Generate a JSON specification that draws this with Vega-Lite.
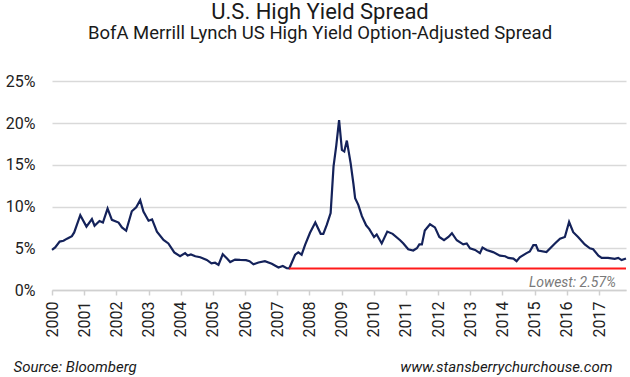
{
  "$schema": "https://vega.github.io/schema/vega-lite/v6.json",
  "width": 574,
  "height": 217,
  "autosize": {"type": "none"},
  "padding": {"left": 52, "top": 73, "right": 4, "bottom": 87},
  "background": "white",
  "title": {
    "text": "U.S. High Yield Spread",
    "subtitle": "BofA Merrill Lynch US High Yield Option-Adjusted Spread",
    "anchor": "middle",
    "dx": -19,
    "font": "Roboto",
    "fontSize": 22,
    "fontWeight": "normal",
    "color": "#1a1a1a",
    "subtitleFont": "Roboto",
    "subtitleFontSize": 18.5,
    "subtitleColor": "#1a1a1a",
    "subtitlePadding": 0,
    "offset": 30
  },
  "config": {
    "view": {"stroke": null},
    "axis": {"labelFont": "Roboto", "titleFont": "Roboto"}
  },
  "datasets": {
    "spread": [
      {"date": "2000-01-01", "value": 4.8},
      {"date": "2000-02-06", "value": 5.1},
      {"date": "2000-03-28", "value": 5.8},
      {"date": "2000-05-11", "value": 5.9},
      {"date": "2000-06-20", "value": 6.15},
      {"date": "2000-08-14", "value": 6.45},
      {"date": "2000-09-09", "value": 6.9},
      {"date": "2000-11-17", "value": 8.96},
      {"date": "2001-01-26", "value": 7.6},
      {"date": "2001-03-29", "value": 8.5},
      {"date": "2001-04-28", "value": 7.7},
      {"date": "2001-06-23", "value": 8.27},
      {"date": "2001-08-01", "value": 8.08},
      {"date": "2001-09-23", "value": 9.75},
      {"date": "2001-11-11", "value": 8.4},
      {"date": "2002-01-26", "value": 8.08},
      {"date": "2002-03-05", "value": 7.5},
      {"date": "2002-04-22", "value": 7.1},
      {"date": "2002-06-25", "value": 9.43},
      {"date": "2002-08-14", "value": 9.92},
      {"date": "2002-09-28", "value": 10.77},
      {"date": "2002-11-04", "value": 9.4},
      {"date": "2003-01-01", "value": 8.3},
      {"date": "2003-02-10", "value": 8.46},
      {"date": "2003-04-06", "value": 7.0},
      {"date": "2003-06-20", "value": 6.0},
      {"date": "2003-08-14", "value": 5.58},
      {"date": "2003-10-20", "value": 4.5},
      {"date": "2003-12-25", "value": 4.04},
      {"date": "2004-02-20", "value": 4.42},
      {"date": "2004-03-20", "value": 4.12},
      {"date": "2004-04-26", "value": 4.25},
      {"date": "2004-06-15", "value": 4.04},
      {"date": "2004-08-10", "value": 3.92},
      {"date": "2004-10-23", "value": 3.6},
      {"date": "2004-12-15", "value": 3.19},
      {"date": "2005-01-25", "value": 3.27},
      {"date": "2005-03-05", "value": 3.0},
      {"date": "2005-04-22", "value": 4.28},
      {"date": "2005-06-10", "value": 3.77},
      {"date": "2005-07-16", "value": 3.35},
      {"date": "2005-09-09", "value": 3.65},
      {"date": "2005-11-06", "value": 3.6},
      {"date": "2006-01-12", "value": 3.58},
      {"date": "2006-02-20", "value": 3.46},
      {"date": "2006-04-06", "value": 3.08},
      {"date": "2006-06-02", "value": 3.3},
      {"date": "2006-08-14", "value": 3.46},
      {"date": "2006-10-31", "value": 3.15},
      {"date": "2007-01-15", "value": 2.7},
      {"date": "2007-03-05", "value": 2.88},
      {"date": "2007-04-19", "value": 2.62},
      {"date": "2007-05-18", "value": 2.6},
      {"date": "2007-07-23", "value": 4.23},
      {"date": "2007-08-28", "value": 4.5},
      {"date": "2007-10-05", "value": 4.23},
      {"date": "2007-11-13", "value": 5.4},
      {"date": "2008-01-08", "value": 6.85},
      {"date": "2008-03-08", "value": 8.08},
      {"date": "2008-05-08", "value": 6.73},
      {"date": "2008-06-07", "value": 6.73},
      {"date": "2008-07-16", "value": 7.8},
      {"date": "2008-08-29", "value": 9.23},
      {"date": "2008-10-01", "value": 14.8},
      {"date": "2008-11-01", "value": 17.3},
      {"date": "2008-12-03", "value": 20.35},
      {"date": "2009-01-04", "value": 16.8},
      {"date": "2009-01-31", "value": 16.6},
      {"date": "2009-03-01", "value": 17.9},
      {"date": "2009-04-13", "value": 15.2},
      {"date": "2009-05-15", "value": 12.7},
      {"date": "2009-06-03", "value": 11.0},
      {"date": "2009-07-09", "value": 10.2},
      {"date": "2009-08-19", "value": 8.85},
      {"date": "2009-10-06", "value": 7.75},
      {"date": "2009-11-11", "value": 7.3},
      {"date": "2010-01-04", "value": 6.35},
      {"date": "2010-02-03", "value": 6.65},
      {"date": "2010-04-01", "value": 5.58},
      {"date": "2010-06-03", "value": 7.0},
      {"date": "2010-08-03", "value": 6.73},
      {"date": "2010-10-27", "value": 5.96},
      {"date": "2010-12-03", "value": 5.58},
      {"date": "2011-01-27", "value": 4.88},
      {"date": "2011-03-25", "value": 4.73},
      {"date": "2011-05-05", "value": 5.0},
      {"date": "2011-06-02", "value": 5.46},
      {"date": "2011-07-01", "value": 5.46},
      {"date": "2011-08-03", "value": 7.12},
      {"date": "2011-10-01", "value": 7.88},
      {"date": "2011-11-26", "value": 7.5},
      {"date": "2012-01-15", "value": 6.35},
      {"date": "2012-03-08", "value": 5.96},
      {"date": "2012-04-27", "value": 6.35},
      {"date": "2012-06-06", "value": 6.8},
      {"date": "2012-07-31", "value": 5.96},
      {"date": "2012-10-12", "value": 5.46},
      {"date": "2012-11-21", "value": 5.58},
      {"date": "2012-12-28", "value": 5.0},
      {"date": "2013-02-24", "value": 4.8},
      {"date": "2013-04-20", "value": 4.42},
      {"date": "2013-05-19", "value": 5.08},
      {"date": "2013-07-05", "value": 4.8},
      {"date": "2013-09-16", "value": 4.54},
      {"date": "2013-12-03", "value": 4.12},
      {"date": "2014-01-31", "value": 4.04},
      {"date": "2014-03-08", "value": 3.85},
      {"date": "2014-05-05", "value": 3.77},
      {"date": "2014-06-10", "value": 3.46},
      {"date": "2014-07-16", "value": 3.92},
      {"date": "2014-10-01", "value": 4.42},
      {"date": "2014-11-07", "value": 4.62},
      {"date": "2014-12-17", "value": 5.38},
      {"date": "2015-01-16", "value": 5.38},
      {"date": "2015-02-10", "value": 4.73},
      {"date": "2015-05-15", "value": 4.54},
      {"date": "2015-08-19", "value": 5.58},
      {"date": "2015-10-16", "value": 6.15},
      {"date": "2015-12-10", "value": 6.35},
      {"date": "2016-01-27", "value": 8.15},
      {"date": "2016-03-14", "value": 6.92},
      {"date": "2016-05-08", "value": 6.35},
      {"date": "2016-07-23", "value": 5.46},
      {"date": "2016-09-19", "value": 5.0},
      {"date": "2016-10-26", "value": 4.88},
      {"date": "2016-12-25", "value": 4.12},
      {"date": "2017-01-31", "value": 3.85},
      {"date": "2017-04-13", "value": 3.85},
      {"date": "2017-06-28", "value": 3.73},
      {"date": "2017-08-07", "value": 3.85},
      {"date": "2017-09-14", "value": 3.58},
      {"date": "2017-11-03", "value": 3.77}
    ],
    "lowest": [
      {"start": "2007-05-18", "end": "2017-11-03", "value": 2.57, "label": "Lowest: 2.57%"}
    ]
  },
  "layer": [
    {
      "data": {"name": "spread"},
      "mark": {"type": "line", "color": "#14225a", "strokeWidth": 2.2, "interpolate": "linear"},
      "encoding": {
        "x": {
          "field": "date",
          "type": "temporal",
          "scale": {"domain": ["2000-01-01", "2017-11-03"]},
          "axis": {
            "format": "%Y",
            "tickCount": {"interval": "year", "step": 1},
            "labelAngle": -90,
            "labelFontSize": 16,
            "labelColor": "#222",
            "labelPadding": 6,
            "labelFlush": false,
            "labelOverlap": false,
            "grid": false,
            "domainColor": "#d0d0d0",
            "domainWidth": 1.5,
            "tickColor": "#d0d0d0",
            "tickWidth": 1.5,
            "tickSize": 5,
            "title": "www.stansberrychurchouse.com",
            "titleFontSize": 15,
            "titleFontStyle": "italic",
            "titleFontWeight": "normal",
            "titleColor": "#1a1a1a",
            "titleAnchor": "end",
            "titleAlign": "right",
            "titleBaseline": "middle",
            "titleX": 560,
            "titleY": 76
          }
        },
        "y": {
          "field": "value",
          "type": "quantitative",
          "scale": {"domain": [0, 25]},
          "axis": {
            "values": [0, 5, 10, 15, 20, 25],
            "labelExpr": "datum.value + '%'",
            "labelFontSize": 16,
            "labelColor": "#222",
            "labelPadding": 17,
            "ticks": false,
            "domain": false,
            "grid": true,
            "gridColor": "#d9d9d9",
            "gridWidth": 1.5,
            "title": "Source: Bloomberg",
            "titleAngle": 0,
            "titleFontSize": 15,
            "titleFontStyle": "italic",
            "titleFontWeight": "normal",
            "titleColor": "#1a1a1a",
            "titleAlign": "left",
            "titleBaseline": "middle",
            "titleX": -39,
            "titleY": 293
          }
        }
      }
    },
    {
      "data": {"name": "lowest"},
      "mark": {"type": "rule", "color": "#ff1a1a", "strokeWidth": 2},
      "encoding": {
        "x": {"field": "start", "type": "temporal"},
        "x2": {"field": "end"},
        "y": {"field": "value", "type": "quantitative"}
      }
    },
    {
      "data": {"name": "lowest"},
      "mark": {"type": "text", "align": "right", "baseline": "middle", "dx": -10, "dy": 14, "font": "Roboto", "fontStyle": "italic", "fontSize": 14, "color": "#7a7a7a"},
      "encoding": {
        "x": {"field": "end", "type": "temporal"},
        "y": {"field": "value", "type": "quantitative"},
        "text": {"field": "label"}
      }
    }
  ]
}
